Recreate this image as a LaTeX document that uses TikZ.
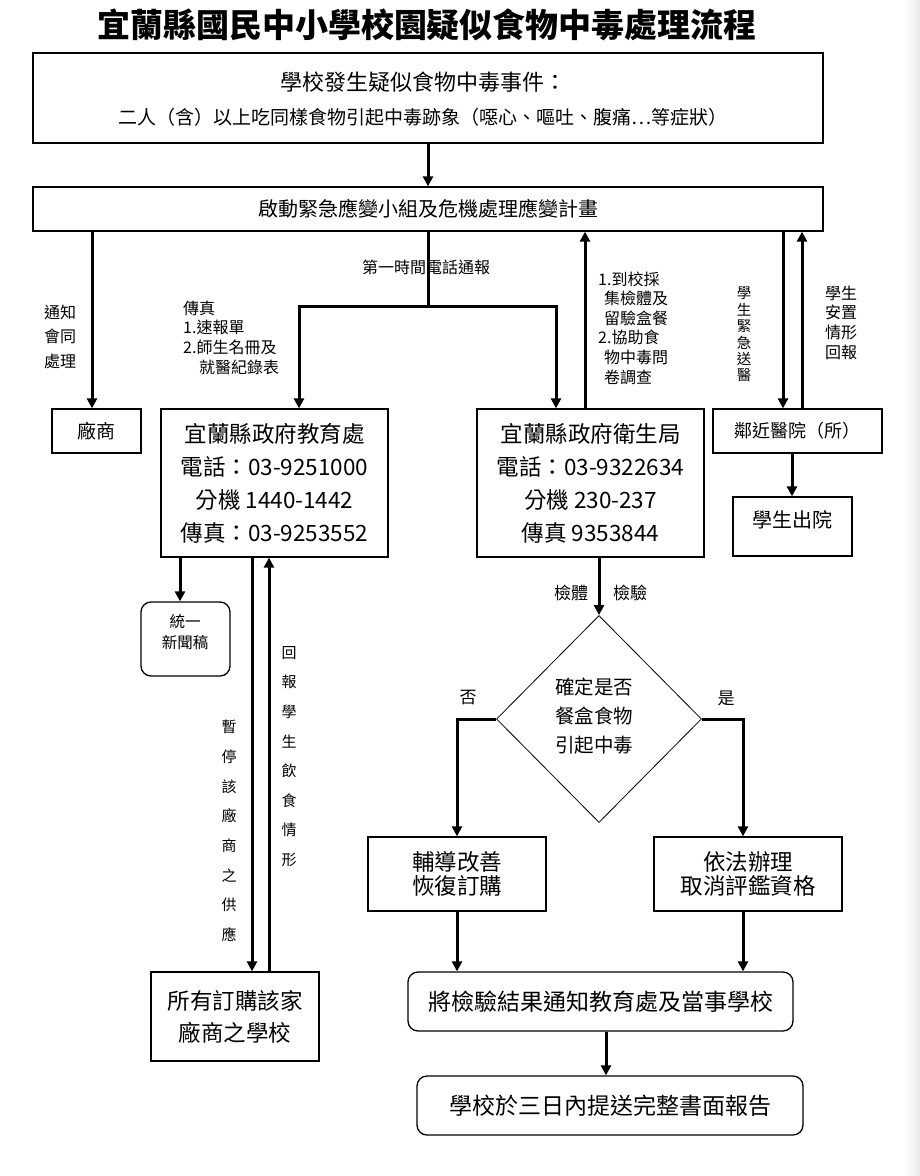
\documentclass[tikz,border=0pt]{standalone}
\usepackage{fontspec}
\setmainfont{Noto Sans CJK TC}
\usetikzlibrary{arrows.meta,shapes.geometric}
\newcommand\myfs[2]{\fontsize{#1}{#2}\selectfont}
\begin{document}
\begin{tikzpicture}[x=1pt,y=-1pt,
  box/.style={draw,line width=1.3pt,inner sep=0pt,align=center},
  rbox/.style={box,rounded corners=10pt},
  arr/.style={line width=3pt,-{Triangle[length=10pt,width=10pt]}},
  ln/.style={line width=3pt},
  lbl/.style={inner sep=0pt,align=left},
  txt/.style={inner sep=0pt,align=center},
]
\useasboundingbox (0,0) rectangle (920,1176);
\shade[left color=white,right color=black!9] (904,0) rectangle (920,1176);

% title
\node[txt,font=\bfseries\myfs{33}{36}] (title) at (427,25) {宜蘭縣國民中小學校園疑似食物中毒處理流程};

% top boxes
\node[box,minimum width=790,minimum height=90] (b1) at (428,98) {};
\node[txt,font=\myfs{22}{22}] (b1a) at (423,82) {學校發生疑似食物中毒事件：};
\node[txt,font=\myfs{19}{19}] (b1b) at (423,117) {二人（含）以上吃同樣食物引起中毒跡象（噁心、嘔吐、腹痛…等症狀）};
\node[box,minimum width=790,minimum height=44,font=\myfs{20}{20}] (b2) at (428,209) {啟動緊急應變小組及危機處理應變計畫};

% middle row
\node[box,minimum width=89,minimum height=44,font=\myfs{19}{19}] (vendor) at (96.5,431) {廠商};
\node[box,minimum width=227,minimum height=148,font=\myfs{22.5}{33}] (edu) at (274.5,483) {宜蘭縣政府教育處\\電話：03-9251000\\分機 1440-1442\\傳真：03-9253552};
\node[box,minimum width=227,minimum height=148,font=\myfs{22.5}{33}] (health) at (590.5,483) {宜蘭縣政府衛生局\\電話：03-9322634\\分機 230-237\\傳真 9353844};
\node[box,minimum width=169,minimum height=44,font=\myfs{18}{18}] (hosp) at (797.5,431) {鄰近醫院（所）};
\node[box,minimum width=119,minimum height=59] (out) at (792.5,526.5) {};
\node[txt,font=\myfs{20}{20}] (outt) at (792,520) {學生出院};

% left column
\node[rbox,minimum width=89,minimum height=74] (news) at (185.5,639) {};
\node[txt,font=\myfs{15.5}{21}] (newst) at (185,632.5) {統一\\新聞稿};
\node[box,minimum width=168,minimum height=89,font=\myfs{22.5}{32}] (schools) at (235,1016.5) {所有訂購該家\\廠商之學校};

% decision
\node[draw,line width=0.8pt,diamond,minimum width=205,minimum height=207,inner sep=0pt] (dia) at (599,719) {};
\node[txt,font=\myfs{19.5}{29}] (diat) at (594,716) {確定是否\\餐盒食物\\引起中毒};
\node[box,minimum width=178,minimum height=74,font=\myfs{22.5}{24}] (fix) at (457,874) {輔導改善\\恢復訂購};
\node[box,minimum width=188,minimum height=74,font=\myfs{22.5}{24}] (law) at (748,874) {依法辦理\\取消評鑑資格};
\node[rbox,minimum width=385,minimum height=59,font=\myfs{23}{23}] (notify) at (600.5,1001.5) {將檢驗結果通知教育處及當事學校};
\node[rbox,minimum width=386,minimum height=59,font=\myfs{23}{23}] (report) at (610,1105.5) {學校於三日內提送完整書面報告};

% labels
\node[lbl,font=\myfs{16}{24.5},anchor=west] (l1) at (44,336.5) {通知\\會同\\處理};
\node[lbl,font=\myfs{16}{16},anchor=west] (l2) at (362,267) {第一時間電話通報};
\node[lbl,font=\myfs{16}{19.7},anchor=west] (l3) at (183,337.5) {傳真\\1.速報單\\2.師生名冊及\\\hspace{16pt}就醫紀錄表};
\node[lbl,font=\myfs{16}{19.6},anchor=west] (l4) at (598,328) {1.到校採\\\hspace{6pt}集檢體及\\\hspace{6pt}留驗盒餐\\2.協助食\\\hspace{6pt}物中毒問\\\hspace{6pt}卷調查};
\node[txt,font=\myfs{14.5}{16.4}] (l5) at (744,334.5) {學\\生\\緊\\急\\送\\醫};
\node[lbl,font=\myfs{16}{19.7},anchor=west] (l6) at (825,322.5) {學生\\安置\\情形\\回報};
\node[txt,font=\myfs{15}{29.7}] (l7) at (229,831) {暫\\停\\該\\廠\\商\\之\\供\\應};
\node[txt,font=\myfs{15}{29.6}] (l8) at (289,756.5) {回\\報\\學\\生\\飲\\食\\情\\形};
\node[txt,font=\myfs{17}{17}] (l9) at (571,593) {檢體};
\node[txt,font=\myfs{17}{17}] (l10) at (630,593) {檢驗};
\node[txt,font=\myfs{17}{17}] (l11) at (468,698) {否};
\node[txt,font=\myfs{17}{17}] (l12) at (726,698) {是};

% connector x positions
\coordinate (xV) at (92,0);
\coordinate (split) at (428,306);
\coordinate (xE) at (299,0);
\coordinate (xH) at (556,0);
\coordinate (xHu) at (585,0);
\coordinate (xHd) at (783,0);
\coordinate (xHu2) at (802,0);
\coordinate (xO) at (792,0);
\coordinate (xN) at (180,0);
\coordinate (xS1) at (252,0);
\coordinate (xS2) at (269,0);
\coordinate (xL) at (743,0);
\coordinate (xR) at (606,0);

% connectors
\draw[arr] (b1.south) -- (b2.north);
\draw[arr] (b2.south -| xV) -- (vendor.north -| xV);
\draw[ln] (b2.south) -- (split);
\draw[arr] (split) -| (edu.north -| xE);
\draw[arr] (split) -| (health.north -| xH);
\draw[arr] (health.north -| xHu) -- (b2.south -| xHu);
\draw[arr] (b2.south -| xHd) -- (hosp.north -| xHd);
\draw[arr] (hosp.north -| xHu2) -- (b2.south -| xHu2);
\draw[arr] (hosp.south -| xO) -- (out.north -| xO);
\draw[arr] (edu.south -| xN) -- (news.north -| xN);
\draw[arr] (edu.south -| xS1) -- (schools.north -| xS1);
\draw[arr] (schools.north -| xS2) -- (edu.south -| xS2);
\draw[arr] (health.south -| dia.north) -- (dia.north);
\draw[arr] (dia.west) -| (fix.north);
\draw[arr] (dia.east) -| (law.north -| xL);
\draw[arr] (fix.south) -- (notify.north -| fix.south);
\draw[arr] (law.south -| xL) -- (notify.north -| xL);
\draw[arr] (notify.south -| xR) -- (report.north -| xR);
\end{tikzpicture}
\end{document}
